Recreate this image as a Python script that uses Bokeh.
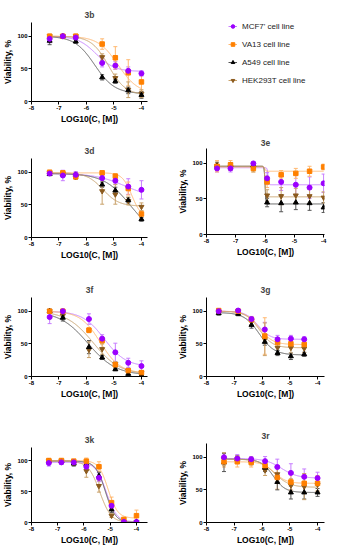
from bokeh.plotting import figure
from bokeh.layouts import row, column
from bokeh.models import (Range1d, FixedTicker, Whisker, TeeHead, ColumnDataSource,
                          Legend, LegendItem)
from bokeh.embed import file_html
from bokeh.resources import INLINE
import numpy as np

FONT = "Liberation Sans"

SERIES = ["MCF7' cell line", "VA13 cell line", "A549 cell line", "HEK293T cell line"]
MARKERS = ["circle", "square", "triangle", "inverted_triangle"]
MARK_COLORS = ["#9B00FF", "#FF8000", "#000000", "#8B5A1E"]
LINE_COLORS = ["#C77DFF", "#FFB870", "#555555", "#C9A26B"]

X_TICKS = [-8, -7, -6, -5, -4]
Y_TICKS = [0, 50, 100]

# ---- panel 3b ----
X_3B = [-7.34, -6.86, -6.39, -5.43, -4.95, -4.48, -4.00]
MCF7_3B = [96, 100, 98, 59, 55, 47, 43]
MCF7_3B_SD = [6, 2, 3, 6, 6, 6, 4]
VA13_3B = [100, 100, 100, 88, 67, 44, 30]
VA13_3B_SD = [3, 2, 3, 8, 17, 20, 14]
A549_3B = [93, 100, 92, 37, 31, 17, 10]
A549_3B_SD = [6, 2, 3, 4, 3, 5, 5]
HEK_3B = [100, 100, 100, 68, 36, 18, 12]
HEK_3B_SD = [3, 2, 3, 5, 6, 12, 6]
# fit parameters: top, bottom, logIC50, hill
FIT_3B = [(100, 46, -5.65, 1.3), (100, 12, -4.85, 1.2), (100, 12, -5.7, 1.2), (100, 10, -5.2, 1.4)]

# ---- panel 3d ----
X_3D = [-7.34, -6.86, -6.39, -5.43, -4.95, -4.48, -4.00]
MCF7_3D = [98, 95, 96, 91, 87, 78, 73]
MCF7_3D_SD = [3, 8, 5, 4, 5, 12, 14]
VA13_3D = [100, 99, 93, 99, 94, 75, 36]
VA13_3D_SD = [2, 3, 4, 3, 4, 10, 5]
A549_3D = [97, 97, 96, 81, 72, 57, 28]
A549_3D_SD = [2, 2, 3, 4, 5, 4, 3]
HEK_3D = [99, 98, 93, 71, 66, 56, 47]
HEK_3D_SD = [2, 3, 4, 20, 15, 6, 6]
FIT_3D = [(98, 60, -4.6, 0.8), (99, 30, -4.35, 2.5), (98, 0, -4.4, 0.9), (99, 48, -5.4, 1.5)]

# ---- panel 3e ----
X_3E = [-7.64, -7.18, -6.40, -5.93, -5.45, -4.95, -4.48, -4.00]
MCF7_3E = [93, 93, 100, 79, 74, 70, 66, 72]
MCF7_3E_SD = [5, 5, 2, 8, 12, 14, 15, 13]
VA13_3E = [96, 98, 93, 74, 84, 86, 89, 95]
VA13_3E_SD = [8, 6, 5, 8, 6, 7, 7, 4]
A549_3E = [97, 97, 97, 45, 44, 45, 44, 38]
A549_3E_SD = [4, 4, 4, 6, 12, 10, 10, 7]
HEK_3E = [96, 95, 94, 55, 54, 55, 54, 52]
HEK_3E_SD = [6, 5, 6, 8, 12, 10, 10, 8]
FIT_3E = [(94, 70, -5.9, 30), (95, 89, -6.0, 30), (96, 43, -6.0, 30), (96, 53, -6.0, 30)]

# ---- panel 3f ----
X_3F = [-7.34, -6.86, -5.91, -5.43, -4.95, -4.48, -4.00]
MCF7_3F = [91, 100, 88, 58, 37, 21, 16]
MCF7_3F_SD = [10, 3, 8, 6, 14, 7, 8]
VA13_3F = [100, 100, 71, 55, 18, 9, 6]
VA13_3F_SD = [3, 3, 4, 5, 4, 3, 3]
A549_3F = [100, 90, 45, 29, 11, 4, 2]
A549_3F_SD = [3, 5, 10, 3, 2, 2, 2]
HEK_3F = [100, 93, 41, 42, 19, 9, 6]
HEK_3F_SD = [3, 4, 12, 8, 4, 3, 3]
FIT_3F = [(100, 15, -5.35, 1.1), (100, 5, -5.5, 1.2), (100, 2, -5.95, 0.85), (100, 3, -5.75, 0.9)]

# ---- panel 3g ----
X_3G = [-7.56, -6.86, -6.38, -5.90, -5.44, -4.96, -4.48]
MCF7_3G = [100, 101, 88, 72, 57, 58, 57]
MCF7_3G_SD = [3, 3, 4, 11, 6, 5, 4]
VA13_3G = [101, 100, 87, 62, 52, 50, 49]
VA13_3G_SD = [3, 3, 4, 28, 6, 6, 6]
A549_3G = [97, 96, 79, 53, 36, 31, 34]
A549_3G_SD = [3, 3, 5, 5, 4, 5, 3]
HEK_3G = [99, 100, 85, 57, 44, 44, 43]
HEK_3G_SD = [3, 3, 6, 25, 10, 8, 6]
FIT_3G = [(100, 57, -6.15, 2.0), (100, 49, -6.1, 1.8), (98, 33, -6.1, 1.6), (100, 44, -6.1, 1.8)]

# ---- panel 3k ----
X_3K = [-7.34, -6.86, -6.39, -5.91, -5.43, -4.95, -4.48, -4.00]
MCF7_3K = [96, 97, 97, 90, 72, 27, 1, 1]
MCF7_3K_SD = [5, 3, 3, 6, 6, 5, 2, 2]
VA13_3K = [100, 100, 99, 99, 90, 32, 5, 11]
VA13_3K_SD = [3, 3, 3, 5, 8, 9, 3, 9]
A549_3K = [99, 99, 95, 94, 75, 21, 1, 1]
A549_3K_SD = [3, 3, 4, 5, 6, 5, 2, 2]
HEK_3K = [99, 99, 96, 83, 59, 11, 1, 1]
HEK_3K_SD = [3, 3, 4, 10, 10, 3, 2, 2]
FIT_3K = [(97, 1, -5.15, 2.2), (100, 7, -5.08, 2.4), (99, 0, -5.18, 2.3), (99, 0, -5.4, 2.0)]

# ---- panel 3r ----
X_3R = [-7.37, -6.89, -6.39, -5.89, -5.45, -4.96, -4.48, -4.00]
MCF7_3R = [100, 98, 97, 94, 85, 76, 70, 68]
MCF7_3R_SD = [6, 6, 4, 7, 12, 14, 12, 9]
VA13_3R = [93, 93, 92, 87, 69, 62, 60, 60]
VA13_3R_SD = [8, 8, 7, 6, 18, 12, 14, 12]
A549_3R = [92, 97, 95, 84, 62, 46, 46, 46]
A549_3R_SD = [14, 5, 4, 6, 12, 10, 10, 6]
HEK_3R = [97, 97, 94, 80, 74, 57, 55, 58]
HEK_3R_SD = [10, 5, 6, 8, 12, 10, 20, 10]
FIT_3R = [(98, 68, -5.3, 1.5), (93, 60, -5.55, 2.0), (97, 46, -5.6, 2.0), (97, 54, -5.55, 1.6)]


def style_axes(p):
    p.outline_line_color = None
    p.xgrid.visible = False
    p.ygrid.visible = False
    p.xaxis.ticker = FixedTicker(ticks=X_TICKS)
    p.xaxis.major_label_overrides = {t: "-%d" % (-t) for t in X_TICKS}
    p.yaxis.ticker = FixedTicker(ticks=Y_TICKS)
    p.xaxis.axis_label = "LOG10(C, [M])"
    p.yaxis.axis_label = "Viability, %"
    for ax in (p.xaxis, p.yaxis):
        ax.axis_line_color = "black"
        ax.axis_line_width = 1
        ax.major_tick_line_color = "black"
        ax.major_tick_in = 0
        ax.major_tick_out = 3
        ax.minor_tick_line_color = None
        ax.major_label_text_font = FONT
        ax.major_label_text_font_size = "6px"
        ax.major_label_text_font_style = "bold"
        ax.major_label_text_color = "black"
        ax.major_label_standoff = 1
        ax.axis_label_text_font = FONT
        ax.axis_label_text_font_size = "8.5px"
        ax.axis_label_text_font_style = "bold"
        ax.axis_label_text_color = "black"
        ax.axis_label_standoff = 1


def make_panel(title, xs, ys, sds, fits, x_end, width, height, bl, br, bt, bb):
    p = figure(width=width, height=height, x_range=Range1d(-8, x_end), y_range=Range1d(0, 121),
               output_backend="svg", toolbar_location=None, title=title,
               min_border_left=bl, min_border_right=br, min_border_top=bt, min_border_bottom=bb)
    p.title.align = "center"
    p.title.text_font = FONT
    p.title.text_font_size = "8.5px"
    p.title.text_font_style = "bold"
    p.title.standoff = 6
    style_axes(p)
    # fitted curves
    for i, (top, bot, ic50, hill) in enumerate(fits):
        cx = np.linspace(min(xs), max(xs), 600)
        cy = bot + (top - bot) / (1 + 10 ** ((cx - ic50) * hill))
        p.line(cx, cy, line_color=LINE_COLORS[i], line_width=1)
    # error bars
    for i in range(4):
        y = np.array(ys[i], dtype=float)
        s = np.array(sds[i], dtype=float)
        src = ColumnDataSource(dict(x=xs, up=y + s, lo=y - s))
        w = Whisker(source=src, base="x", upper="up", lower="lo", line_color=LINE_COLORS[i], line_width=1,
                    upper_head=TeeHead(size=4, line_color=LINE_COLORS[i], line_width=1),
                    lower_head=TeeHead(size=4, line_color=LINE_COLORS[i], line_width=1))
        p.add_layout(w)
    # markers (MCF7 on top)
    for i in [3, 2, 1, 0]:
        p.scatter(xs, ys[i], marker=MARKERS[i], size=5 if i != 1 else 4.5,
                  fill_color=MARK_COLORS[i], line_color=MARK_COLORS[i])
    return p


def make_legend(width, height, bl, br):
    p = figure(width=width, height=height, x_range=Range1d(0, 1), y_range=Range1d(0, 1),
               output_backend="svg", toolbar_location=None,
               min_border_left=bl, min_border_top=0, min_border_right=br, min_border_bottom=0,
               x_axis_type=None, y_axis_type=None)
    p.outline_line_color = None
    p.xgrid.visible = False
    p.ygrid.visible = False
    items = []
    for i in range(4):
        rl = p.line([-10, -9], [-10, -9], line_color=LINE_COLORS[i], line_width=1)
        rs = p.scatter([-10], [-10], marker=MARKERS[i], size=5, fill_color=MARK_COLORS[i],
                       line_color=MARK_COLORS[i])
        items.append(LegendItem(label=SERIES[i], renderers=[rl, rs]))
    lg = Legend(items=items, location=(22, 36), orientation="vertical")
    lg.glyph_width = 9
    lg.glyph_height = 12
    lg.label_height = 12
    lg.label_width = 10
    lg.spacing = 6
    lg.padding = 0
    lg.margin = 0
    lg.border_line_color = None
    lg.background_fill_alpha = 0
    lg.label_standoff = 5
    lg.label_text_font = FONT
    lg.label_text_font_size = "8px"
    lg.label_text_color = "#222222"
    p.add_layout(lg)
    return p


# left column: frames 31 -> 147 (aligned)
pb = make_panel("3b", X_3B, [MCF7_3B, VA13_3B, A549_3B, HEK_3B],
                [MCF7_3B_SD, VA13_3B_SD, A549_3B_SD, HEK_3B_SD], FIT_3B, -3.78, 170, 128, 31, 23, 22, 27)
pd_ = make_panel("3d", X_3D, [MCF7_3D, VA13_3D, A549_3D, HEK_3D],
                 [MCF7_3D_SD, VA13_3D_SD, A549_3D_SD, HEK_3D_SD], FIT_3D, -3.78, 170, 140, 31, 23, 30, 31)
pf = make_panel("3f", X_3F, [MCF7_3F, VA13_3F, A549_3F, HEK_3F],
                [MCF7_3F_SD, VA13_3F_SD, A549_3F_SD, HEK_3F_SD], FIT_3F, -3.78, 170, 142, 31, 23, 29, 34)
pk = make_panel("3k", X_3K, [MCF7_3K, VA13_3K, A549_3K, HEK_3K],
                [MCF7_3K_SD, VA13_3K_SD, A549_3K_SD, HEK_3K_SD], FIT_3K, -3.58, 170, 138, 31, 23, 37, 26)

# right column: frames 206 -> 324 (aligned)
pl = make_legend(171, 122, 36, 17)
pe = make_panel("3e", X_3E, [MCF7_3E, VA13_3E, A549_3E, HEK_3E],
                [MCF7_3E_SD, VA13_3E_SD, A549_3E_SD, HEK_3E_SD], FIT_3E, -3.97, 171, 146, 36, 17, 26, 34)
pg = make_panel("3g", X_3G, [MCF7_3G, VA13_3G, A549_3G, HEK_3G],
                [MCF7_3G_SD, VA13_3G_SD, A549_3G_SD, HEK_3G_SD], FIT_3G, -3.75, 171, 142, 36, 17, 29, 34)
pr = make_panel("3r", X_3R, [MCF7_3R, VA13_3R, A549_3R, HEK_3R],
                [MCF7_3R_SD, VA13_3R_SD, A549_3R_SD, HEK_3R_SD], FIT_3R, -3.75, 171, 138, 36, 17, 33, 26)

layout = row(column(pb, pd_, pf, pk), column(pl, pe, pg, pr))
open("out.html", "w").write(file_html(layout, INLINE))
